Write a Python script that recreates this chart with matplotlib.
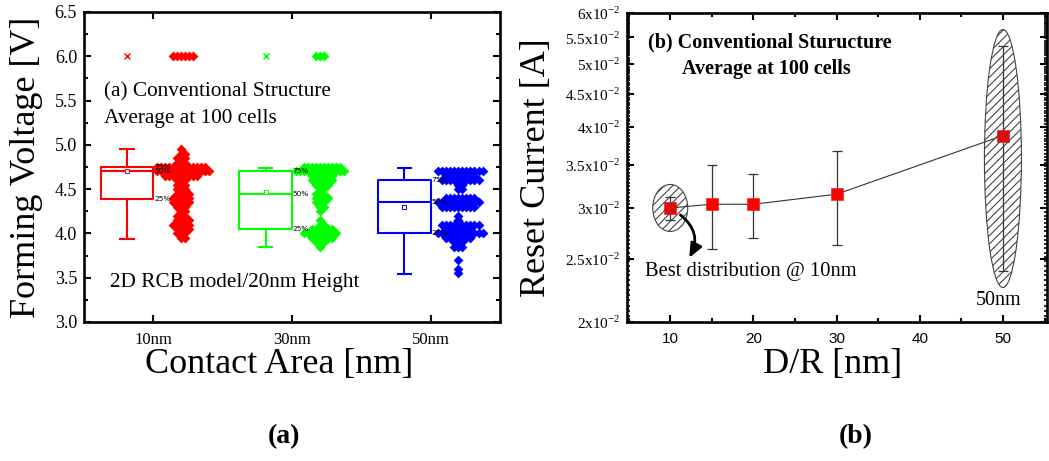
import numpy as np
import matplotlib
matplotlib.use('Agg')
import matplotlib.pyplot as plt
from matplotlib.patches import Ellipse
from matplotlib.ticker import FixedLocator, MultipleLocator, NullFormatter, FixedFormatter

plt.rcParams['font.family'] = ['Liberation Serif', 'DejaVu Serif']
plt.rcParams['mathtext.fontset'] = 'custom'
plt.rcParams['mathtext.rm'] = 'Liberation Serif'
plt.rcParams['hatch.linewidth'] = 0.8

# ---------------- panel (a) data ----------------
areas = ['10nm', '30nm', '50nm']
colors_a = ['#ff0000', '#00ff00', '#0000ff']
box_q1 = [4.39, 4.05, 4.00]
box_med = [4.70, 4.45, 4.35]
box_q3 = [4.75, 4.70, 4.60]
box_lo = [3.94, 3.85, 3.54]
box_hi = [4.95, 4.74, 4.74]
box_mean = [4.71, 4.47, 4.30]
box_max = [6.0, 6.0, np.nan]

red_levels = [6.0, 4.95, 4.90, 4.85, 4.80, 4.75, 4.70, 4.65, 4.60, 4.55, 4.50, 4.45,
              4.40, 4.35, 4.30, 4.25, 4.20, 4.15, 4.10, 4.05, 4.00, 3.95]
red_counts = [6, 1, 2, 3, 3, 13, 14, 9, 3, 3, 3, 4, 5, 5, 3, 2, 3, 4, 5, 4, 3, 2]

green_levels = [6.0, 4.75, 4.70, 4.65, 4.60, 4.55, 4.50, 4.45, 4.40, 4.35, 4.30, 4.25,
                4.15, 4.10, 4.05, 4.00, 3.95, 3.90, 3.85]
green_counts = [3, 10, 13, 6, 6, 4, 2, 3, 4, 3, 2, 1, 1, 2, 6, 9, 6, 3, 1]

blue_levels = [4.70, 4.65, 4.60, 4.55, 4.50, 4.40, 4.35, 4.30, 4.20, 4.15, 4.10, 4.05,
               4.00, 3.95, 3.90, 3.85, 3.70, 3.60, 3.55]
blue_counts = [12, 8, 10, 2, 2, 8, 11, 9, 1, 1, 10, 7, 12, 7, 3, 3, 1, 1, 1]

# ---------------- panel (b) data ----------------
dr = [10, 15, 20, 30, 50]
ireset = [0.0300, 0.0304, 0.0304, 0.0315, 0.0388]
err_lo = [0.0287, 0.0259, 0.0270, 0.0263, 0.0240]
err_hi = [0.0312, 0.0349, 0.0339, 0.0367, 0.0533]
yticks_b = [0.020, 0.025, 0.030, 0.035, 0.040, 0.045, 0.050, 0.055, 0.060]
yticklabels_b = [r'2x10$^{\mathregular{-2}}$', r'2.5x10$^{\mathregular{-2}}$',
                 r'3x10$^{\mathregular{-2}}$', r'3.5x10$^{\mathregular{-2}}$',
                 r'4x10$^{\mathregular{-2}}$', r'4.5x10$^{\mathregular{-2}}$',
                 r'5x10$^{\mathregular{-2}}$', r'5.5x10$^{\mathregular{-2}}$',
                 r'6x10$^{\mathregular{-2}}$']


def swarm(levels, counts, center, step):
    xs, ys = [], []
    for v, n in zip(levels, counts):
        for k in range(n):
            m = (k + 1) // 2
            sgn = 1 if k % 2 == 1 else -1
            off = 0 if k == 0 else sgn * m
            xs.append(center + off * step)
            ys.append(v)
    return xs, ys


fig = plt.figure(figsize=(10.49, 4.61), dpi=100)
W, H = 1049.0, 461.0

# ================= panel (a) =================
ax = fig.add_axes([84 / W, 1 - 322 / H, 416 / W, 310 / H])
positions = np.arange(1, len(areas) + 1)
box_w = 0.38
for i, c in enumerate(colors_a):
    stats = [dict(med=box_med[i], q1=box_q1[i], q3=box_q3[i], whislo=box_lo[i],
                  whishi=box_hi[i], mean=box_mean[i], fliers=[], label=areas[i])]
    bpos = positions[i] - box_w / 2
    ax.bxp(stats, positions=[bpos], widths=box_w, capwidths=0.095,
           showmeans=True, showfliers=False, manage_ticks=False,
           boxprops=dict(color=c, lw=1.5), whiskerprops=dict(color=c, lw=1.5),
           capprops=dict(color=c, lw=1.5), medianprops=dict(color=c, lw=1.5),
           meanprops=dict(marker='s', markersize=3.2, markerfacecolor='white',
                          markeredgecolor=c, markeredgewidth=0.7))
    if not np.isnan(box_max[i]):
        ax.plot([bpos], [box_max[i]], 'x', color=c, ms=4, mew=1.0)
    xr = positions[i] + 0.005
    for val, lab in [(box_q3[i], '75%'), (box_med[i], '50%'), (box_q1[i], '25%')]:
        ax.text(xr, val, lab, fontsize=5.3, family='DejaVu Sans', ha='left',
                va='center', zorder=6)

for i, (lv, ct) in enumerate([(red_levels, red_counts), (green_levels, green_counts),
                              (blue_levels, blue_counts)]):
    xs, ys = swarm(lv, ct, positions[i] + 0.2, 0.029)
    ax.scatter(xs, ys, marker='D', s=25, color=colors_a[i], linewidths=0, zorder=4)

ax.set_xlim(0.5, 3.5)
ax.set_ylim(3.0, 6.5)
ax.set_xticks(positions, areas, fontsize=12)
ax.yaxis.set_major_locator(MultipleLocator(0.5))
ax.yaxis.set_minor_locator(MultipleLocator(0.25))
ax.set_yticklabels([f'{v:.1f}' for v in ax.get_yticks()], fontsize=13)
ax.tick_params(which='both', direction='in', top=True, right=True, width=1.5)
ax.tick_params(which='major', length=5, pad=5)
ax.tick_params(which='minor', length=3)
ax.tick_params(axis='x', pad=7)
for s in ax.spines.values():
    s.set_linewidth(1.9)
ax.set_ylabel('Forming Voltage [V]', fontsize=26)
ax.set_xlabel('Contact Area [nm]', fontsize=26)
ax.yaxis.set_label_coords(-0.099, 0.5)
ax.xaxis.set_label_coords(0.47, -0.085)

ax.text(0.048, 0.742, '(a) Conventional Structure', transform=ax.transAxes,
        fontsize=15.3, va='center', ha='left')
ax.text(0.048, 0.658, 'Average at 100 cells', transform=ax.transAxes,
        fontsize=15.3, va='center', ha='left')
ax.text(0.0625, 0.126, '2D RCB model/20nm Height', transform=ax.transAxes,
        fontsize=15.3, va='center', ha='left')

# ================= panel (b) =================
ax2 = fig.add_axes([627 / W, 1 - 322 / H, 420 / W, 309 / H])
ax2.set_yscale('log')
ax2.set_xlim(4.8, 55.3)
ax2.set_ylim(0.020, 0.060)

yerr = [np.array(ireset) - np.array(err_lo), np.array(err_hi) - np.array(ireset)]
ax2.plot(dr, ireset, color='#333333', lw=0.8, zorder=2)
ax2.errorbar(dr, ireset, yerr=yerr, fmt='none', ecolor='#333333', elinewidth=0.9,
             capsize=3.5, capthick=0.9, zorder=2)
ax2.plot(dr, ireset, 's', color='#ff0000', ms=8, mec='#ff2020', mew=0.5, zorder=3)

ax2.yaxis.set_major_locator(FixedLocator(yticks_b))
ax2.yaxis.set_major_formatter(FixedFormatter(yticklabels_b))
ax2.yaxis.set_minor_locator(MultipleLocator(0.0004))
ax2.yaxis.set_minor_formatter(NullFormatter())
ax2.set_xticks([10, 20, 30, 40, 50], ['10', '20', '30', '40', '50'],
               fontfamily='Liberation Sans', fontsize=11)
ax2.xaxis.set_minor_locator(MultipleLocator(5))
for lbl in ax2.get_yticklabels():
    lbl.set_fontsize(11)
ax2.tick_params(which='both', direction='in', top=True, right=True, width=1.5)
ax2.tick_params(which='major', length=5, pad=5)
ax2.tick_params(which='minor', length=3)
ax2.tick_params(axis='y', which='minor', length=2.5, width=1.2)
ax2.tick_params(axis='x', pad=7)
for s in ax2.spines.values():
    s.set_linewidth(1.9)
ax2.set_ylabel('Reset Current [A]', fontsize=26)
ax2.set_xlabel('D/R [nm]', fontsize=26)
ax2.yaxis.set_label_coords(-0.176, 0.5)
ax2.xaxis.set_label_coords(0.49, -0.085)

# hatched ellipses around the 10 nm and 50 nm points
inv = ax2.transAxes.inverted()
c10 = inv.transform(ax2.transData.transform((dr[0], ireset[0])))
c50 = inv.transform(ax2.transData.transform((dr[-1], np.sqrt(err_lo[-1] * err_hi[-1]))))
for (cx, cy), w, h in [(c10, 35 / 420, 47 / 309), (c50, 37 / 420, 258 / 309)]:
    ax2.add_patch(Ellipse((cx, cy), w, h, transform=ax2.transAxes, facecolor='none',
                          edgecolor='#444444', hatch='////', lw=0.8, zorder=5))

ax2.annotate('', xy=(0.145, 0.20), xytext=(0.122, 0.352), xycoords='axes fraction',
             arrowprops=dict(arrowstyle='-|>,head_length=0.7,head_width=0.3',
                             connectionstyle='arc3,rad=-0.45', color='black', lw=2.0,
                             mutation_scale=12), zorder=6)

ax2.text(0.05, 0.903, '(b) Conventional Sturucture', transform=ax2.transAxes,
         fontsize=14.5, fontweight='bold', va='center', ha='left')
ax2.text(0.13, 0.819, 'Average at 100 cells', transform=ax2.transAxes,
         fontsize=14.5, fontweight='bold', va='center', ha='left')
ax2.text(0.043, 0.162, 'Best distribution @ 10nm', transform=ax2.transAxes,
         fontsize=14.8, va='center', ha='left')
ax2.text(0.831, 0.071, '50nm', transform=ax2.transAxes,
         fontsize=14.5, va='center', ha='left')

fig.text(284 / W, 1 - 437 / H, '(a)', fontsize=20, fontweight='bold', ha='center', va='center')
fig.text(856 / W, 1 - 437 / H, '(b)', fontsize=20, fontweight='bold', ha='center', va='center')

fig.savefig('out.png', dpi=100)
